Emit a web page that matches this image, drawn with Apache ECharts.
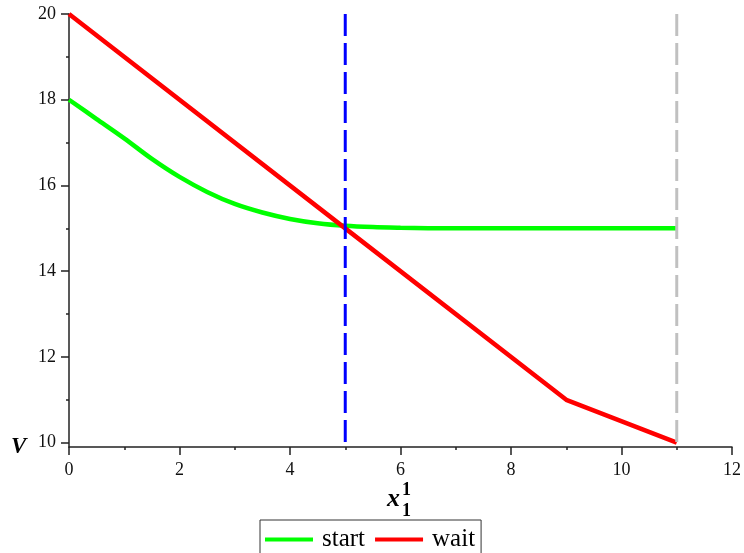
<!DOCTYPE html>
<html>
<head>
<meta charset="utf-8">
<script src="https://cdn.jsdelivr.net/npm/echarts@6/dist/echarts.min.js"></script>
<style>html,body{margin:0;padding:0;background:#fff}#c{width:744px;height:553px}</style>
</head>
<body>
<div id="c"></div>
<script>
var startX = [0, 0.5, 1, 1.5, 2, 2.5, 3, 3.5, 4, 4.5, 5, 5.5, 6, 6.5, 7, 8, 9, 10, 11];
var startV = [18.0, 17.55, 17.1, 16.62, 16.2, 15.85, 15.57, 15.37, 15.22, 15.12, 15.06, 15.03, 15.015, 15.005, 15.0, 15.0, 15.0, 15.0, 15.0];
var waitX = [0, 5, 9, 11];
var waitV = [20, 15, 11, 10];
var blueLineX = 5;
var grayLineX = 11;
var yMajorTicks = [10, 12, 14, 16, 18, 20];
var yMinorTicks = [11, 13, 15, 17, 19];
var seriesNames = ['start', 'wait'];

var font = 'Liberation Serif, Times New Roman, serif';
var axisColor = '#222';

function pairs(xs, ys) { return xs.map(function (x, i) { return [x, ys[i]]; }); }

var chart = echarts.init(document.getElementById('c'));
chart.setOption({
  animation: false,
  backgroundColor: '#fff',
  grid: { left: 69, right: 11, top: 14, bottom: 106, containLabel: false },
  xAxis: {
    type: 'value', min: 0, max: 12, interval: 2,
    axisLine: { show: true, onZero: false, lineStyle: { color: axisColor, width: 1.5 } },
    axisTick: { show: true, length: 8, lineStyle: { color: axisColor, width: 1.5 } },
    minorTick: { show: true, splitNumber: 2, length: 3, lineStyle: { color: axisColor, width: 1.5 } },
    splitLine: { show: false },
    axisLabel: { fontFamily: font, fontSize: 18, color: '#111', margin: 14 }
  },
  yAxis: [{
    type: 'value', min: 9.9, max: 20,
    axisLine: { show: true, onZero: false, lineStyle: { color: axisColor, width: 1.5 } },
    axisTick: { show: true, length: 8, customValues: yMajorTicks, lineStyle: { color: axisColor, width: 1.5 } },
    splitLine: { show: false },
    axisLabel: { fontFamily: font, fontSize: 18, color: '#111', margin: 13, customValues: yMajorTicks }
  }, {
    type: 'value', min: 9.9, max: 20, position: 'left',
    axisLine: { show: false },
    axisTick: { show: true, length: 3, customValues: yMinorTicks, lineStyle: { color: axisColor, width: 1.5 } },
    splitLine: { show: false },
    axisLabel: { show: false, customValues: [] }
  }],
  legend: {
    data: seriesNames,
    left: 260, top: 520,
    orient: 'horizontal',
    selectedMode: false,
    icon: 'rect',
    itemWidth: 48, itemHeight: 4, itemGap: 10,
    borderColor: '#333', borderWidth: 1,
    padding: [7, 6, 12, 5],
    textStyle: { fontFamily: font, fontSize: 25, color: '#000', padding: [0, 0, 0, 4] }
  },
  series: [{
    name: 'start', type: 'line', data: pairs(startX, startV),
    smooth: 0.3, showSymbol: false, symbol: 'none',
    lineStyle: { color: '#00ff00', width: 4.5 }, itemStyle: { color: '#00ff00' }, z: 2
  }, {
    name: 'wait', type: 'line', data: pairs(waitX, waitV),
    showSymbol: false, symbol: 'none',
    lineStyle: { color: '#ff0000', width: 4.5 }, itemStyle: { color: '#ff0000' }, z: 3
  }, {
    name: 'threshold', type: 'line', data: [[blueLineX, 20], [blueLineX, 9.9]],
    showSymbol: false, symbol: 'none',
    lineStyle: { color: '#0000ff', width: 3, type: [22, 7] }, z: 4
  }, {
    name: 'end', type: 'line', data: [[grayLineX, 20], [grayLineX, 10]],
    showSymbol: false, symbol: 'none',
    lineStyle: { color: '#c0c0c0', width: 3, type: [22, 7] }, z: 5
  }],
  graphic: [
    { type: 'text', left: 11, top: 436, style: { text: 'V', font: 'italic bold 23px ' + font, fill: '#000' } },
    { type: 'text', left: 387, top: 486, style: { text: 'x', font: 'italic bold 26px ' + font, fill: '#000' } },
    { type: 'text', left: 402, top: 481, style: { text: '1', font: 'bold 18px ' + font, fill: '#000' } },
    { type: 'text', left: 402, top: 502, style: { text: '1', font: 'bold 18px ' + font, fill: '#000' } }
  ]
});
</script>
</body>
</html>
